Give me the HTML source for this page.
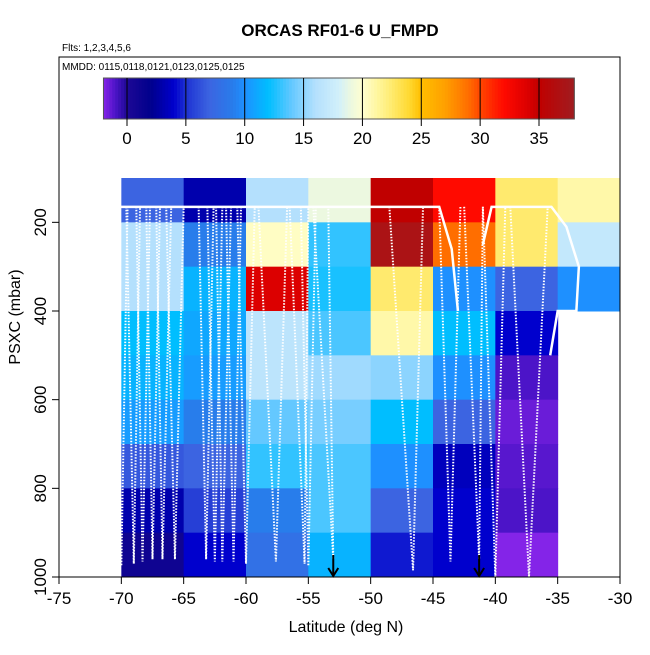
<!DOCTYPE html>
<html><head><meta charset="utf-8"><style>
body{margin:0;background:#fff;}
svg text{font-family:"Liberation Sans",Arial,sans-serif;}
</style></head><body>
<svg id="chart" width="650" height="650" xmlns="http://www.w3.org/2000/svg">
<text x="340" y="36" text-anchor="middle" font-size="17" font-weight="bold">ORCAS RF01-6 U_FMPD</text>
<text x="62" y="51" font-size="10">Flts: 1,2,3,4,5,6</text>
<text x="62" y="70" font-size="10">MMDD: 0115,0118,0121,0123,0125,0125</text>
<g id="cells"></g>
<g id="tracks"></g>
<g id="cbar"></g>
<rect x="59" y="57" width="561" height="520" fill="none" stroke="#000" stroke-width="1"/>
<g id="axes"></g>
<text x="346" y="632" text-anchor="middle" font-size="16">Latitude (deg N)</text>
<text transform="translate(20,317) rotate(-90)" text-anchor="middle" font-size="16">PSXC (mbar)</text>
</svg>
<script>
const latEdges=[-70,-65,-60,-55,-50,-45,-40,-35,-30];
const presEdges=[100,200,300,400,500,600,700,800,900,1000];
const cellValues=[
[7,3,16,19,35,32,22.5,21],
[16,9,20.3,13,37,29,22.5,17],
[16,11.5,34,12.5,22.5,10,7,10],
[12,11,16.5,13.5,21,12,4,null],
[11.5,10.5,16.5,15.5,15,10,-1,null],
[10.5,9,14,14.5,12,7,-1.5,null],
[6.5,7,13,13.5,10,3.5,-1.2,null],
[3,5.5,9,13.5,7,4,-1,null],
[1,4,8,11.5,4.5,4,-2,null]];
const cbarTicks=[0,5,10,15,20,25,30,35];
const xTicks=[-75,-70,-65,-60,-55,-50,-45,-40,-35,-30];
const yTicks=[200,400,600,800,1000];
const dives=[
[-70.5,-70.0,-69.5,975],[-69.6,-69.0,-68.5,970],[-68.8,-68.3,-67.7,965],[-68.0,-67.5,-66.9,960],
[-67.2,-66.7,-66.0,960],[-66.4,-65.7,-65.0,960],[-63.8,-63.2,-62.6,960],[-63.1,-62.5,-61.9,965],
[-62.4,-61.9,-61.2,965],[-61.6,-61.0,-60.4,965],[-60.7,-60.0,-59.3,970],[-59.0,-57.6,-56.7,965],
[-56.5,-55.3,-55.0,970],[-55.6,-55.0,-54.4,975],[-54.6,-53.0,-53.4,960],[-48.5,-46.6,-45.8,985],
[-44.5,-43.6,-42.8,965],[-42.5,-41.3,-41.0,960],[-41.0,-40.0,-39.2,1000],[-38.8,-37.3,-35.8,1000]];
const topTrack=[[-70.6,165],[-44.5,165],[-43.5,260],[-43.0,400]];
const eastTrack=[[-41.0,250],[-40.3,165],[-35.5,165],[-34.3,210],[-33.3,300],[-33.5,400],[-35,400],[-35.6,500]];
const arrowLats=[-53,-41.3];

const NS="http://www.w3.org/2000/svg";
const X=v=>59+(v+75)*561/45;
const Y=p=>178+(p-100)*(577-178)/900;
const stops=[[-2,[132,36,232]],[-1.5,[106,28,216]],[-1,[76,20,200]],[0,[30,8,150]],[2,[0,0,140]],[4,[0,0,205]],[5,[30,50,210]],[7,[60,100,225]],[9,[40,125,235]],[10,[30,144,255]],[12,[0,190,255]],[14,[100,200,255]],[16,[180,224,253]],[18,[210,240,250]],[19,[236,248,224]],[20,[255,255,208]],[22,[255,240,130]],[24,[255,216,48]],[25,[255,190,0]],[27,[255,160,0]],[29,[255,110,0]],[30,[255,70,0]],[32,[255,10,0]],[34,[220,0,0]],[35,[192,0,0]],[38,[160,28,32]]];
function col(v){
  if(v<=stops[0][0])return 'rgb('+stops[0][1]+')';
  for(let i=1;i<stops.length;i++){if(v<=stops[i][0]){const a=stops[i-1],b=stops[i],t=(v-a[0])/(b[0]-a[0]);
    return 'rgb('+a[1].map((c,k)=>Math.round(c+(b[1][k]-c)*t)).join(',')+')';}}
  return 'rgb('+stops[stops.length-1][1]+')';
}
function el(tag,attrs,parent){const e=document.createElementNS(NS,tag);for(const k in attrs)e.setAttribute(k,attrs[k]);parent.appendChild(e);return e;}
const cells=document.getElementById('cells');
cellValues.forEach((row,r)=>row.forEach((v,c)=>{
  if(v===null)return;
  const x0=X(latEdges[c]),x1=X(latEdges[c+1]),y0=Y(presEdges[r]),y1=Y(presEdges[r+1]);
  const e=el('rect',{x:x0,y:y0,width:x1-x0+0.5,height:y1-y0+0.5,fill:col(v)},cells);
  
  
}));
const tr=document.getElementById('tracks');
dives.forEach(d=>{
  const pts=[[d[0],165],[d[1],d[3]],[d[2],165]].map(p=>X(p[0])+','+Y(p[1])).join(' ');
  const e=el('polyline',{points:pts,fill:'none',stroke:'#fff','stroke-width':2,'stroke-dasharray':'1.5 1.5'},tr);
  
  
});
[topTrack,eastTrack].forEach(t=>{
  const e=el('polyline',{points:t.map(p=>X(p[0])+','+Y(p[1])).join(' '),fill:'none',stroke:'#fff','stroke-width':2.5},tr);
  
  
});
arrowLats.forEach(a=>{
  const x=X(a);
  const g=el('g',{},tr);
  
  
  el('line',{x1:x,y1:555,x2:x,y2:576,stroke:'#000','stroke-width':2},g);
  el('polyline',{points:(x-5)+',568 '+x+',576 '+(x+5)+',568',fill:'none',stroke:'#000','stroke-width':2},g);
});
const cb=document.getElementById('cbar');
const CX=v=>127+(v)*(539-127)/35;
for(let v=-2;v<38;v+=0.25){
  const e=el('rect',{x:CX(v),y:78,width:CX(v+0.25)-CX(v)+0.4,height:41,fill:col(v+0.125)},cb);
  
  
}
el('rect',{x:CX(-2),y:78,width:CX(38)-CX(-2),height:41,fill:'none',stroke:'#555','stroke-width':1},cb);
cbarTicks.forEach(v=>{
  const x=CX(v);
  el('line',{x1:x,y1:78,x2:x,y2:126,stroke:'#000','stroke-width':1},cb);
  const t=el('text',{x:x,y:144,'text-anchor':'middle','font-size':17},cb);t.textContent=v;
  
  
});
const ax=document.getElementById('axes');
xTicks.forEach(v=>{
  const x=X(v);
  el('line',{x1:x,y1:577,x2:x,y2:584,stroke:'#000'},ax);
  const t=el('text',{x:x,y:604,'text-anchor':'middle','font-size':17},ax);t.textContent=v;
  
  
});
yTicks.forEach(v=>{
  const y=Y(v);
  el('line',{x1:52,y1:y,x2:59,y2:y,stroke:'#000'},ax);
  const t=el('text',{transform:'translate(46,'+y+') rotate(-90)','text-anchor':'middle','font-size':17},ax);t.textContent=v;
  
  
});
</script>
</body></html>
